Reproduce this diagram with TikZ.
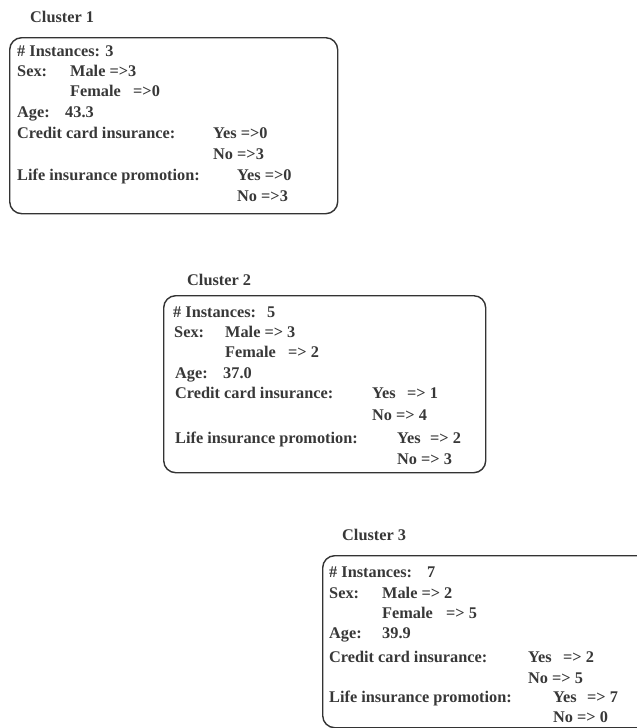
\documentclass[tikz,border=0pt]{standalone}
\usepackage{fontspec}
\setmainfont{Liberation Serif}
\begin{document}
\begin{tikzpicture}[x=1pt,y=-1pt,
  box/.style={draw=black!80, line width=1.4pt, rounded corners=12pt, inner sep=0pt, anchor=north west},
  txt/.style={anchor=base west, inner sep=0pt, font=\fontsize{16.3}{19}\selectfont\bfseries, text=black!78},
  ttl/.style={txt}]
\useasboundingbox (0,0) rectangle (637,728);
\clip (0,0) rectangle (637,728);

% ---------- Cluster 1 ----------
\node[ttl] (t1) at (30,23) {Cluster 1};
\node[box, minimum width=328pt, minimum height=176pt] (b1) at (9,37) {};
\node[txt] (a1) at (17,56) {\# Instances: 3};
\node[txt] (a2) at (17,76) {Sex:};
\node[txt] (a3) at (70,76) {Male =>3};
\node[txt] (a4) at (70,96) {Female};
\node[txt] (a5) at (133,96) {=>0};
\node[txt] (a6) at (17,117) {Age:};
\node[txt] (a7) at (65,117) {43.3};
\node[txt] (a8) at (17,138) {Credit card insurance:};
\node[txt] (a9) at (213,138) {Yes =>0};
\node[txt] (a10) at (213,159) {No =>3};
\node[txt] (a11) at (17,180) {Life insurance promotion:};
\node[txt] (a12) at (237,180) {Yes =>0};
\node[txt] (a13) at (237,201) {No =>3};

% ---------- Cluster 2 ----------
\node[ttl] (t2) at (187,285) {Cluster 2};
\node[box, minimum width=322pt, minimum height=177pt] (b2) at (163,295) {};
\node[txt] (c1) at (173,317) {\# Instances:};
\node[txt] (c1n) at (267,317) {5};
\node[txt] (c2) at (174,337) {Sex:};
\node[txt] (c3) at (225,337) {Male => 3};
\node[txt] (c4) at (225,357) {Female};
\node[txt] (c5) at (288,357) {=> 2};
\node[txt] (c6) at (175,378) {Age:};
\node[txt] (c7) at (223,378) {37.0};
\node[txt] (c8) at (175,398) {Credit card insurance:};
\node[txt] (c9) at (372,398) {Yes};
\node[txt] (c9n) at (407,398) {=> 1};
\node[txt] (c10) at (372,420) {No => 4};
\node[txt] (c11) at (175,443) {Life insurance promotion:};
\node[txt] (c12) at (397,443) {Yes};
\node[txt] (c12n) at (430,443) {=> 2};
\node[txt] (c13) at (397,464) {No => 3};

% ---------- Cluster 3 ----------
\node[ttl] (t3) at (342,540) {Cluster 3};
\node[box, minimum width=330pt, minimum height=172pt] (b3) at (322,555) {};
\node[txt] (d1) at (329,577) {\# Instances:};
\node[txt] (d1n) at (427,577) {7};
\node[txt] (d2) at (329,598) {Sex:};
\node[txt] (d3) at (382,598) {Male => 2};
\node[txt] (d4) at (382,618) {Female};
\node[txt] (d5) at (446,618) {=> 5};
\node[txt] (d6) at (329,638) {Age:};
\node[txt] (d7) at (382,638) {39.9};
\node[txt] (d8) at (329,662) {Credit card insurance:};
\node[txt] (d9) at (528,662) {Yes};
\node[txt] (d9n) at (563,662) {=> 2};
\node[txt] (d10) at (528,683) {No => 5};
\node[txt] (d11) at (329,702) {Life insurance promotion:};
\node[txt] (d12) at (553,702) {Yes};
\node[txt] (d12n) at (587,702) {=> 7};
\node[txt] (d13) at (553,722) {No => 0};
\end{tikzpicture}
\end{document}
